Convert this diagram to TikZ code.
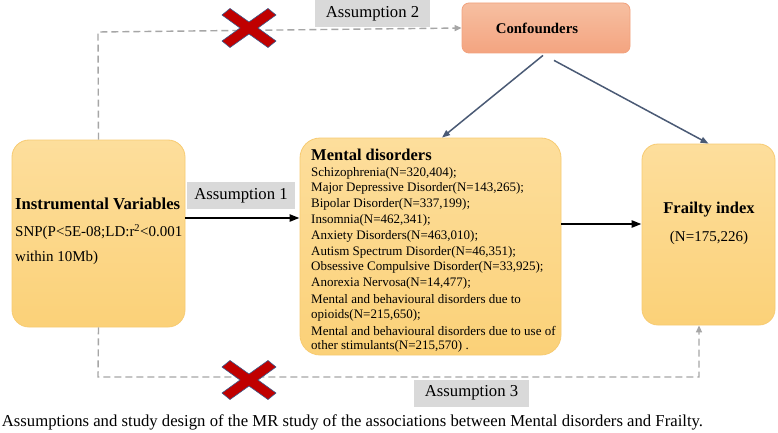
\documentclass[tikz,border=0pt]{standalone}
\usepackage{fontspec}
\setmainfont{Liberation Serif}
\usetikzlibrary{arrows.meta}
\definecolor{boxtop}{HTML}{FDDE9C}
\definecolor{boxbot}{HTML}{FBD178}
\definecolor{boxline}{HTML}{F7CB72}
\definecolor{conftop}{HTML}{F6BFA1}
\definecolor{confbot}{HTML}{F4A480}
\definecolor{confline}{HTML}{F2A27E}
\definecolor{slate}{HTML}{4A5A75}
\definecolor{dashgray}{HTML}{A6A6A6}
\definecolor{labgray}{HTML}{D9D9D9}
\definecolor{xred}{HTML}{C00000}
\definecolor{xblue}{HTML}{3A5A8C}
\begin{document}
\begin{tikzpicture}[x=1pt,y=-1pt,
  ybox/.style={draw=boxline, line width=0.8pt, top color=boxtop, bottom color=boxbot, inner sep=0pt},
  confbox/.style={draw=confline, line width=0.8pt, top color=conftop, bottom color=confbot, inner sep=0pt, rounded corners=7pt, minimum width=168pt, minimum height=50pt},
  labbox/.style={fill=labgray, inner sep=0pt, minimum height=27pt, font=\fontsize{16.7}{19}\selectfont},
  txt/.style={inner sep=0pt, anchor=west},
  item/.style={txt, font=\fontsize{13}{15}\selectfont},
  dasharrow/.style={draw=dashgray, line width=1.4pt, dash pattern=on 7pt off 4pt},
  grayhead/.style={-{Triangle[length=7pt,width=6pt]}},
  blackarrow/.style={draw=black, line width=2.2pt, -{Triangle[length=10pt,width=7pt]}},
  slatearrow/.style={draw=slate, line width=1.5pt, -{Triangle[length=8pt,width=6pt]}},
  xmark/.style={fill=xred, draw=xblue, line width=0.6pt, line join=miter}
]
\fill[white] (0,0) rectangle (778,433);
\useasboundingbox (0,0) rectangle (778,433);

% boxes
\node[ybox, rounded corners=17pt, minimum width=173pt, minimum height=187pt] (iv) at (98.5,233.5) {};
\node[ybox, rounded corners=20pt, minimum width=261pt, minimum height=217pt] (md) at (430.5,246.5) {};
\node[ybox, rounded corners=16pt, minimum width=133pt, minimum height=181pt] (fi) at (708.5,234.5) {};
\node[confbox] (cf) at (546,28) {};
\node[inner sep=0pt, font=\fontsize{14.8}{17}\selectfont\bfseries] (cft) at (537,28) {Confounders};

% left box text
\node[txt, font=\fontsize{16.7}{19}\selectfont\bfseries] (ivt) at (15,204) {Instrumental Variables};
\node[txt, font=\fontsize{15}{17}\selectfont] (iv1) at (15,232) {SNP(P<5E-08;LD:r\textsuperscript{2}<0.001};
\node[txt, font=\fontsize{15}{17}\selectfont] (iv2) at (15,258) {within 10Mb)};

% middle box text
\node[txt, font=\fontsize{16.5}{18}\selectfont\bfseries] (mdt) at (311,155) {Mental disorders};
\node[item] (m1) at (311,173) {Schizophrenia(N=320,404);};
\node[item] (m2) at (311,188.8) {Major Depressive Disorder(N=143,265);};
\node[item] (m3) at (311,204.6) {Bipolar Disorder(N=337,199);};
\node[item] (m4) at (311,220.4) {Insomnia(N=462,341);};
\node[item] (m5) at (311,236.2) {Anxiety Disorders(N=463,010);};
\node[item] (m6) at (311,252) {Autism Spectrum Disorder(N=46,351);};
\node[item] (m7) at (311,267.8) {Obsessive Compulsive Disorder(N=33,925);};
\node[item] (m8) at (311,283.6) {Anorexia Nervosa(N=14,477);};
\node[item] (m9) at (311,299.4) {Mental and behavioural disorders due to};
\node[item] (m10) at (311,315.2) {opioids(N=215,650);};
\node[item] (m11) at (311,331) {Mental and behavioural disorders due to use of};
\node[item] (m12) at (311,346.8) {other stimulants(N=215,570) .};

% right box text
\node[inner sep=0pt, font=\fontsize{16.5}{18}\selectfont\bfseries] (fit) at (709,210) {Frailty index};
\node[inner sep=0pt, font=\fontsize{15}{17}\selectfont] (fin) at (709,238) {(N=175,226)};

% labels
\node[labbox, minimum width=115pt] (a2) at (372.5,13.5) {Assumption 2};
\node[labbox, minimum width=108pt] (a1) at (241,195.5) {Assumption 1};
\node[labbox, minimum width=115pt] (a3) at (471.5,393) {Assumption 3};

% caption
\node[inner sep=0pt, font=\fontsize{16.7}{19}\selectfont] (cap) at (352.5,422) {Assumptions and study design of the MR study of the associations between Mental disorders and Frailty.};

% arrows
\coordinate (s1) at ([yshift=15.5pt]iv.east);
\coordinate (s2) at ([yshift=22.5pt]md.east);
\draw[blackarrow] (s1) -- (md.west |- s1);
\draw[blackarrow] (s2) -- (fi.west |- s2);
\draw[slatearrow] ([xshift=-3pt,yshift=-2pt]cf.south) -- ([xshift=11.5pt]md.north);
\draw[slatearrow] ([xshift=8pt,yshift=-7pt]cf.south) -- (fi.north);

% dashed paths
\coordinate (t2) at (98,32);
\draw[dasharrow, grayhead] (iv.north) -- (t2) -- (cf.west);
\coordinate (b3) at (98,377);
\draw[dasharrow, grayhead] (iv.south) -- (b3) -| ([xshift=-9.5pt]fi.south);

% crosses
\foreach \cx/\cy in {249/28, 249/380}{
  \filldraw[xmark, shift={(\cx,\cy)}] (-27,-13) -- (-19,-19.5) -- (0,-6) -- (19,-19.5) -- (27,-13) -- (9,0) -- (27,13) -- (19,19.5) -- (0,6) -- (-19,19.5) -- (-27,13) -- (-9,0) -- cycle;
}
\end{tikzpicture}
\end{document}
